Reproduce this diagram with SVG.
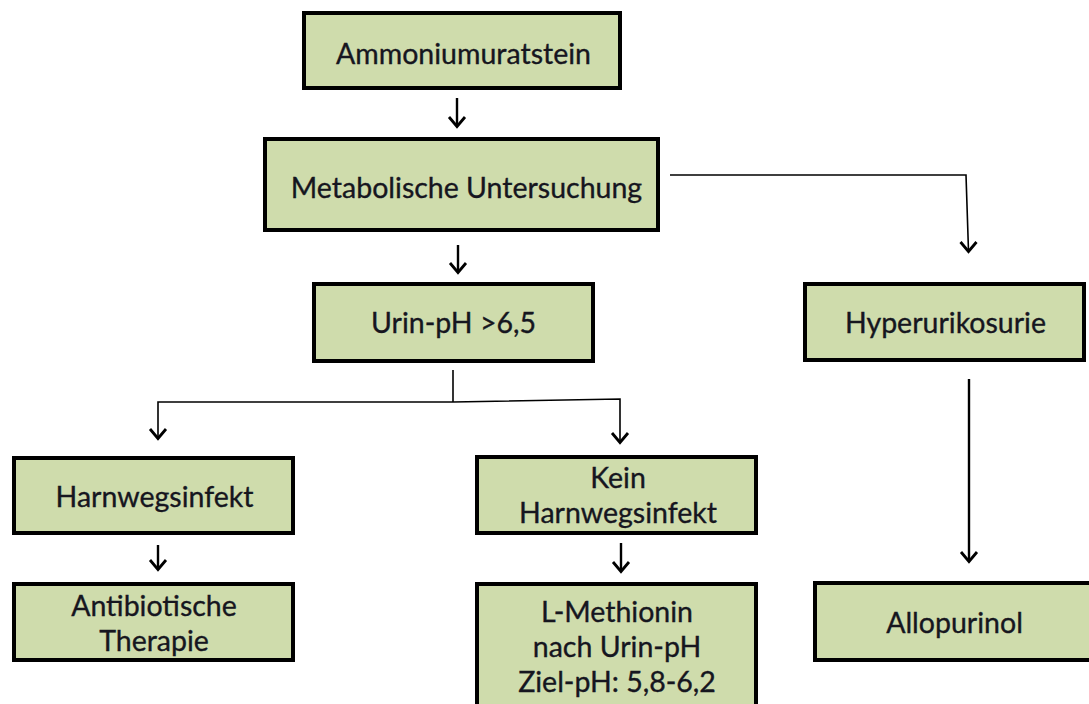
<svg xmlns="http://www.w3.org/2000/svg" width="1089" height="704" viewBox="0 0 1089 704">
  <style>
    .box { fill: #cfdcac; stroke: #000; stroke-width: 4; }
    .lbl { font-family: Lato, "Open Sans", sans-serif; font-size: 28.5px; fill: #16161f; stroke: #16161f; stroke-width: 0.35; text-anchor: middle; }
    .line { fill: none; stroke: #000; stroke-width: 1.6; }
    .shaft { fill: none; stroke: #000; stroke-width: 2.4; }
    .head { fill: none; stroke: #000; stroke-width: 2.8; stroke-linejoin: miter; }
  </style>
  <rect width="1089" height="704" fill="#fff"/>

  <g id="connectors">
    <!-- short arrows between stacked boxes -->
    <path class="shaft" d="M457 98 V126"/>
    <path class="head" d="M449 117 L457 126.5 L465 117"/>
    <path class="shaft" d="M458 245 V272"/>
    <path class="head" d="M450 263 L458 272.5 L466 263"/>
    <path class="shaft" d="M158 545 V569"/>
    <path class="head" d="M150 560 L158 569.5 L166 560"/>
    <path class="shaft" d="M621 543 V571"/>
    <path class="head" d="M613 562 L621 571.5 L629 562"/>

    <!-- Metabolische Untersuchung to Hyperurikosurie -->
    <path class="line" d="M670 175 H966 L968.5 251"/>
    <path class="head" d="M960.5 242 L968.5 251.5 L976.5 242"/>

    <!-- Urin-pH split -->
    <path class="line" d="M453 370 V402"/>
    <path class="line" d="M158 439 V402 H453 L620 399 V442"/>
    <path class="head" d="M150 429 L158 438.5 L166 429"/>
    <path class="head" d="M612 433 L620 442.5 L628 433"/>

    <!-- Hyperurikosurie to Allopurinol -->
    <path class="line" d="M969 379 V561" style="stroke-width:2.4"/>
    <path class="head" d="M961 552 L969 561.5 L977 552"/>
  </g>

  <g id="ammoniumuratstein">
    <rect class="box" x="304" y="13" width="316" height="75"/>
    <text class="lbl" x="463.5" y="64">Ammoniumuratstein</text>
  </g>

  <g id="metabolische-untersuchung">
    <rect class="box" x="265" y="139" width="393" height="91"/>
    <text class="lbl" x="466.5" y="198">Metabolische Untersuchung</text>
  </g>

  <g id="urin-ph">
    <rect class="box" x="314" y="284" width="279" height="77"/>
    <text class="lbl" x="453.5" y="333">Urin-pH &gt;6,5</text>
  </g>

  <g id="hyperurikosurie">
    <rect class="box" x="805" y="284" width="279" height="76"/>
    <text class="lbl" x="945.5" y="333">Hyperurikosurie</text>
  </g>

  <g id="harnwegsinfekt">
    <rect class="box" x="14" y="458" width="279" height="75"/>
    <text class="lbl" x="154.5" y="507">Harnwegsinfekt</text>
  </g>

  <g id="kein-harnwegsinfekt">
    <rect class="box" x="477" y="457" width="279" height="76"/>
    <text class="lbl" x="618" y="488">Kein</text>
    <text class="lbl" x="618" y="523">Harnwegsinfekt</text>
  </g>

  <g id="antibiotische-therapie">
    <rect class="box" x="14" y="584" width="279" height="76"/>
    <text class="lbl" x="154" y="616">Antibiotische</text>
    <text class="lbl" x="154" y="651">Therapie</text>
  </g>

  <g id="l-methionin">
    <rect class="box" x="477" y="584" width="279" height="130"/>
    <text class="lbl" x="617" y="622">L-Methionin</text>
    <text class="lbl" x="617" y="657">nach Urin-pH</text>
    <text class="lbl" x="617" y="692">Ziel-pH: 5,8-6,2</text>
  </g>

  <g id="allopurinol">
    <rect class="box" x="815" y="583" width="290" height="77"/>
    <text class="lbl" x="954.5" y="633">Allopurinol</text>
  </g>
</svg>
